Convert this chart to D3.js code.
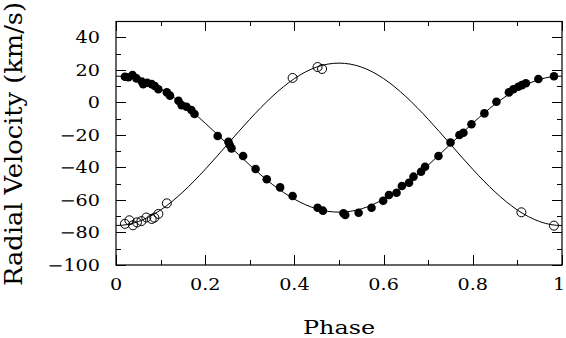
<!DOCTYPE html>
<html lang="en">

<head>
    <meta charset="UTF-8">
    <script src="https://d3js.org/d3.v7.min.js"></script>
    <title>Radial velocity curve</title>
    <style>
        body { margin: 0; background: #fff; }
        text { font-family: 'DejaVu Serif', serif; fill: #000; }
    </style>
</head>

<body>
    <div id="app"></div>
    <script>
        const svg_width = 566;
        const svg_height = 338;
        const plot_left = 116, plot_right = 562, plot_top = 21, plot_bottom = 265;

        // filled circles (primary star)
        var primary_phase = [0.020, 0.028, 0.037, 0.046, 0.058, 0.061, 0.070, 0.080, 0.087, 0.095,
            0.114, 0.121, 0.140, 0.147, 0.158, 0.169, 0.176, 0.228, 0.252, 0.255, 0.259, 0.285,
            0.313, 0.338, 0.368, 0.396, 0.452, 0.464, 0.510, 0.514, 0.544, 0.573, 0.599, 0.612,
            0.629, 0.641, 0.657, 0.667, 0.684, 0.693, 0.723, 0.750, 0.770, 0.779, 0.797, 0.826,
            0.853, 0.881, 0.891, 0.902, 0.910, 0.919, 0.947, 0.982]
        var primary_rv = [15.7, 15.4, 16.8, 14.7, 12.7, 11.2, 12.0, 11.2, 10.0, 8.0,
            6.1, 4.1, 1.0, -1.7, -2.7, -4.7, -7.2, -20.7, -24.2, -26.2, -28.3, -33.0,
            -41.0, -47.3, -52.3, -57.6, -64.8, -66.6, -68.2, -69.3, -67.9, -64.8, -60.5, -57.0,
            -55.6, -51.4, -49.4, -45.7, -42.7, -39.6, -33.0, -24.7, -20.1, -18.7, -13.5, -6.8,
            0.4, 6.1, 8.0, 9.6, 10.6, 11.7, 14.3, 16.0]

        // open circles (secondary star)
        var secondary_phase = [0.020, 0.030, 0.038, 0.047, 0.057, 0.068, 0.080, 0.086, 0.095, 0.114,
            0.396, 0.452, 0.462, 0.909, 0.982]
        var secondary_rv = [-74.7, -72.5, -75.6, -73.8, -73.0, -70.8, -71.7, -70.9, -68.6, -62.1,
            15.0, 21.7, 20.5, -67.6, -75.8]

        // orbit solution curves, read every 0.05 in phase
        var curve_phase = [-0.05, 0, 0.05, 0.1, 0.15, 0.2, 0.25, 0.3, 0.35, 0.4, 0.45, 0.5,
            0.55, 0.6, 0.65, 0.7, 0.75, 0.8, 0.85, 0.9, 0.95, 1, 1.05]
        var primary_curve = [14.1, 16.1, 14.1, 8.1, -1.1, -12.8, -25.7, -38.6, -50.3, -59.5, -65.5, -67.5,
            -65.5, -59.5, -50.3, -38.6, -25.7, -12.8, -1.1, 8.1, 14.1, 16.1, 14.1]
        var secondary_curve = [-73.3, -75.7, -73.3, -66.2, -55.1, -41.2, -25.8, -10.4, 3.5, 14.6, 21.7, 24.1,
            21.7, 14.6, 3.5, -10.4, -25.8, -41.2, -55.1, -66.2, -73.3, -75.7, -73.3]

        var x_major = [0, 0.2, 0.4, 0.6, 0.8, 1]
        var x_labels = ['0', '0.2', '0.4', '0.6', '0.8', '1']
        var x_minor = [0.1, 0.3, 0.5, 0.7, 0.9]
        var y_major = [-100, -80, -60, -40, -20, 0, 20, 40]
        var y_labels = ['\u2212100', '\u221280', '\u221260', '\u221240', '\u221220', '0', '20', '40']
        var y_minor = [-90, -70, -50, -30, -10, 10, 30]

        var svg = d3.select('#app')
            .append('svg')
            .attr('width', svg_width)
            .attr('height', svg_height)

        var x_scale = d3.scaleLinear().domain([0, 1]).range([plot_left, plot_right])
        var y_scale = d3.scaleLinear().domain([-100, 50]).range([plot_bottom, plot_top])

        svg.append('clipPath').attr('id', 'clip')
            .append('rect')
            .attr('x', plot_left).attr('y', plot_top)
            .attr('width', plot_right - plot_left).attr('height', plot_bottom - plot_top)

        // curves
        var line = d3.line()
            .x(function (d) { return x_scale(d[0]) })
            .y(function (d) { return y_scale(d[1]) })
            .curve(d3.curveNatural)

        ;[primary_curve, secondary_curve].forEach(function (c) {
            svg.append('path')
                .datum(curve_phase.map(function (p, i) { return [p, c[i]] }))
                .attr('d', line)
                .attr('fill', 'none')
                .attr('stroke', '#000')
                .attr('stroke-width', 1)
                .attr('clip-path', 'url(#clip)')
        })

        // points
        svg.selectAll('.prim')
            .data(primary_phase)
            .enter()
            .append('circle')
            .attr('class', 'prim')
            .attr('cx', function (d) { return x_scale(d) })
            .attr('cy', function (d, i) { return y_scale(primary_rv[i]) })
            .attr('r', 4.3)
            .attr('fill', '#000')

        svg.selectAll('.sec')
            .data(secondary_phase)
            .enter()
            .append('circle')
            .attr('class', 'sec')
            .attr('cx', function (d) { return x_scale(d) })
            .attr('cy', function (d, i) { return y_scale(secondary_rv[i]) })
            .attr('r', 4.5)
            .attr('fill', 'none')
            .attr('stroke', '#000')
            .attr('stroke-width', 1)

        // frame
        svg.append('rect')
            .attr('x', plot_left).attr('y', plot_top + 0.5)
            .attr('width', plot_right - plot_left).attr('height', plot_bottom - plot_top - 0.5)
            .attr('fill', 'none')
            .attr('stroke', '#000')
            .attr('stroke-width', 1.2)

        // ticks, inward on all four sides
        function xticks(vals, len) {
            vals.forEach(function (v) {
                var x = Math.round(x_scale(v)) + 0.5
                svg.append('line').attr('x1', x).attr('x2', x)
                    .attr('y1', plot_bottom).attr('y2', plot_bottom - len)
                    .attr('stroke', '#000')
                svg.append('line').attr('x1', x).attr('x2', x)
                    .attr('y1', plot_top).attr('y2', plot_top + len)
                    .attr('stroke', '#000')
            })
        }
        function yticks(vals, len) {
            vals.forEach(function (v) {
                var y = Math.round(y_scale(v)) + 0.5
                svg.append('line').attr('x1', plot_left).attr('x2', plot_left + len)
                    .attr('y1', y).attr('y2', y)
                    .attr('stroke', '#000')
                svg.append('line').attr('x1', plot_right).attr('x2', plot_right - len)
                    .attr('y1', y).attr('y2', y)
                    .attr('stroke', '#000')
            })
        }
        xticks(x_major, 10)
        xticks(x_minor, 5)
        yticks(y_major, 10)
        yticks(y_minor, 5)

        // tick labels (the last one is pulled in a little so it stays on the page)
        svg.selectAll('.xlab')
            .data(x_major)
            .enter()
            .append('text')
            .attr('class', 'xlab')
            .attr('transform', function (d) {
                return 'translate(' + Math.min(x_scale(d), 559) + ',290) scale(1.2,1)'
            })
            .style('text-anchor', 'middle')
            .style('font-size', '16px')
            .text(function (d, i) { return x_labels[i] })

        svg.selectAll('.ylab')
            .data(y_major)
            .enter()
            .append('text')
            .attr('class', 'ylab')
            .attr('transform', function (d) { return 'translate(100,' + (y_scale(d) + 6) + ') scale(1.2,1)' })
            .style('text-anchor', 'end')
            .style('font-size', '16px')
            .text(function (d, i) { return y_labels[i] })

        // axis titles
        svg.append('text')
            .attr('x', (plot_left + plot_right) / 2)
            .attr('y', 334)
            .attr('textLength', 72)
            .attr('lengthAdjust', 'spacingAndGlyphs')
            .style('text-anchor', 'middle')
            .style('font-size', '19px')
            .text('Phase')

        svg.append('text')
            .attr('transform', 'translate(22,144) rotate(-90)')
            .attr('textLength', 284)
            .attr('lengthAdjust', 'spacingAndGlyphs')
            .style('text-anchor', 'middle')
            .style('font-size', '24px')
            .text('Radial Velocity (km/s)')
    </script>
</body>

</html>
